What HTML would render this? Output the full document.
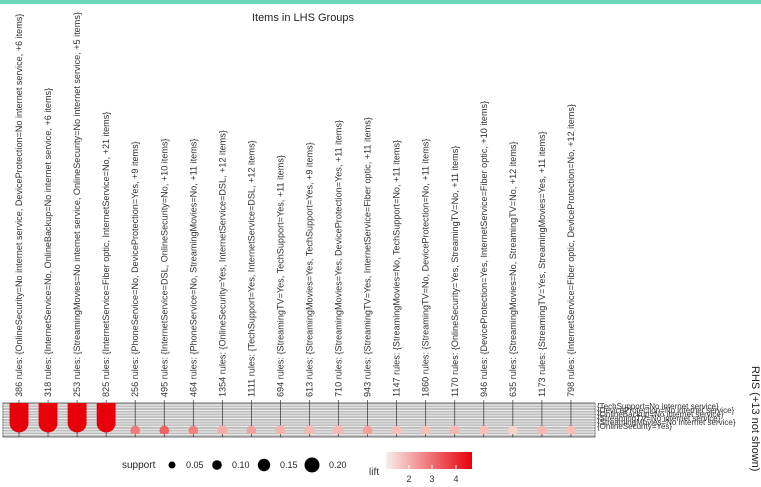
<!DOCTYPE html>
<html><head><meta charset="utf-8"><style>
body{margin:0;background:#fff;font-family:"Liberation Sans",sans-serif}
svg{display:block}
</style></head><body>
<svg id="c" width="761" height="487" xmlns="http://www.w3.org/2000/svg" font-family="Liberation Sans, sans-serif">
<rect x="0" y="0" width="761" height="4" fill="#6fd6b8"/>
<text x="303" y="21" font-size="11" text-anchor="middle" fill="#222">Items in LHS Groups</text>
<defs><clipPath id="mclip"><rect x="3" y="403" width="592" height="31"/></clipPath>
<linearGradient id="lg" x1="0" x2="1"><stop offset="0" stop-color="#f7eeea"/><stop offset="1" stop-color="#e8000b"/></linearGradient></defs>
<rect x="3" y="403" width="592" height="34" fill="#bdbdbd" stroke="#555" stroke-width="0.8"/>
<g id="hlines"></g>
<g id="labels"></g>
<g id="cols" clip-path="url(#mclip)"></g>
<g font-size="8" fill="#333">
<text x="597" y="409">{TechSupport=No internet service}</text>
<text x="597" y="413">{DeviceProtection=No internet service}</text>
<text x="597" y="417">{OnlineBackup=No internet service}</text>
<text x="597" y="421">{StreamingTV=No internet service}</text>
<text x="597" y="425">{StreamingMovies=No internet service}</text>
<text x="597" y="429">{OnlineSecurity=Yes}</text>
</g>
<text transform="translate(752,366) rotate(90)" font-size="11" fill="#222">RHS (+13 not shown)</text>
<g font-size="9" fill="#222">
<text x="122" y="468" font-size="10">support</text>
<circle cx="172" cy="465" r="3.5" fill="#000"/><text x="186" y="468">0.05</text>
<circle cx="217" cy="465" r="4.8" fill="#000"/><text x="232" y="468">0.10</text>
<circle cx="264" cy="465" r="6.2" fill="#000"/><text x="280" y="468">0.15</text>
<circle cx="312" cy="465" r="7.5" fill="#000"/><text x="329" y="468">0.20</text>
</g>
<g font-size="9" fill="#333">
<text x="369" y="475" font-size="10">lift</text>
<rect x="386" y="452" width="86" height="17" fill="url(#lg)"/>
<line x1="409" y1="465" x2="409" y2="469" stroke="#fff"/><line x1="432" y1="465" x2="432" y2="469" stroke="#fff"/><line x1="456" y1="465" x2="456" y2="469" stroke="#fff"/>
<text x="409" y="482" text-anchor="middle">2</text><text x="432" y="482" text-anchor="middle">3</text><text x="456" y="482" text-anchor="middle">4</text>
</g>
</svg>
<script>
const ruleCounts=[386,318,253,825,256,495,464,1354,1111,694,613,710,943,1147,1860,1170,946,635,1173,798];
const lhsLabels=["{OnlineSecurity=No internet service, DeviceProtection=No internet service, +6 items}","{InternetService=No, OnlineBackup=No internet service, +6 items}","{StreamingMovies=No internet service, OnlineSecurity=No internet service, +5 items}","{InternetService=Fiber optic, InternetService=No, +21 items}","{PhoneService=No, DeviceProtection=Yes, +9 items}","{InternetService=DSL, OnlineSecurity=No, +10 items}","{PhoneService=No, StreamingMovies=No, +11 items}","{OnlineSecurity=Yes, InternetService=DSL, +12 items}","{TechSupport=Yes, InternetService=DSL, +12 items}","{StreamingTV=Yes, TechSupport=Yes, +11 items}","{StreamingMovies=Yes, TechSupport=Yes, +9 items}","{StreamingMovies=Yes, DeviceProtection=Yes, +11 items}","{StreamingTV=Yes, InternetService=Fiber optic, +11 items}","{StreamingMovies=No, TechSupport=No, +11 items}","{StreamingTV=No, DeviceProtection=No, +11 items}","{OnlineSecurity=Yes, StreamingTV=No, +11 items}","{DeviceProtection=Yes, InternetService=Fiber optic, +10 items}","{StreamingMovies=No, StreamingTV=No, +12 items}","{StreamingTV=Yes, StreamingMovies=Yes, +11 items}","{InternetService=Fiber optic, DeviceProtection=No, +12 items}"];
const liftValues=[4.6,4.6,4.6,4.6,2.6,3.0,2.5,1.8,2.0,1.7,1.6,1.6,2.0,1.5,1.5,1.6,1.5,1.2,1.6,1.5];
const supportValues=[0.21,0.21,0.21,0.21,0.03,0.03,0.03,0.04,0.03,0.04,0.04,0.04,0.03,0.03,0.03,0.04,0.03,0.03,0.03,0.03];
const ns="http://www.w3.org/2000/svg";
const x0=19,dx=29.05,rowTop=405,rowBot=423,nRows=6;
const xScale=i=>x0+i*dx;
const rScale=s=>3.8+s*35;
function liftColor(l){const t=Math.max(0,Math.min(1,(l-1)/3.6));const a=[248,222,212],b=[232,0,11];return `rgb(${a.map((v,k)=>Math.round(v+(b[k]-v)*t)).join(',')})`;}
const hl=document.getElementById('hlines');
for(let y=405;y<437;y+=2.7){const l=document.createElementNS(ns,'line');l.setAttribute('x1',3);l.setAttribute('x2',595);l.setAttribute('y1',y);l.setAttribute('y2',y);l.setAttribute('stroke','#f4f4f4');l.setAttribute('stroke-width','0.9');hl.appendChild(l);}
const cg=document.getElementById('cols'),lg=document.getElementById('labels');
ruleCounts.forEach((n,i)=>{
  const x=xScale(i);
  const ln=document.createElementNS(ns,'line');
  
  
  ln.setAttribute('x1',x);ln.setAttribute('x2',x);ln.setAttribute('y1',400);ln.setAttribute('y2',437);ln.setAttribute('stroke','#333');ln.setAttribute('stroke-width','0.7');
  lg.appendChild(ln);
  const g=document.createElementNS(ns,'g');
  
  
  const r=rScale(supportValues[i]);const col=liftColor(liftValues[i]);
  if(r>7){
    for(let k=0;k<nRows;k++){const c=document.createElementNS(ns,'circle');c.setAttribute('cx',x);c.setAttribute('cy',rowTop+k*(rowBot-rowTop)/(nRows-1));c.setAttribute('r',9.5);c.setAttribute('fill',col);g.appendChild(c);}
  } else {
    const c=document.createElementNS(ns,'circle');c.setAttribute('cx',x);c.setAttribute('cy',430.5);c.setAttribute('r',r);c.setAttribute('fill',col);g.appendChild(c);
  }
  cg.appendChild(g);
  const t=document.createElementNS(ns,'text');
  
  
  t.setAttribute('transform',`translate(${x+3},397) rotate(-90)`);
  t.setAttribute('font-size','9.1');t.setAttribute('fill','#333');
  t.textContent=n+' rules: '+lhsLabels[i];
  lg.appendChild(t);
});
</script>
</body></html>
